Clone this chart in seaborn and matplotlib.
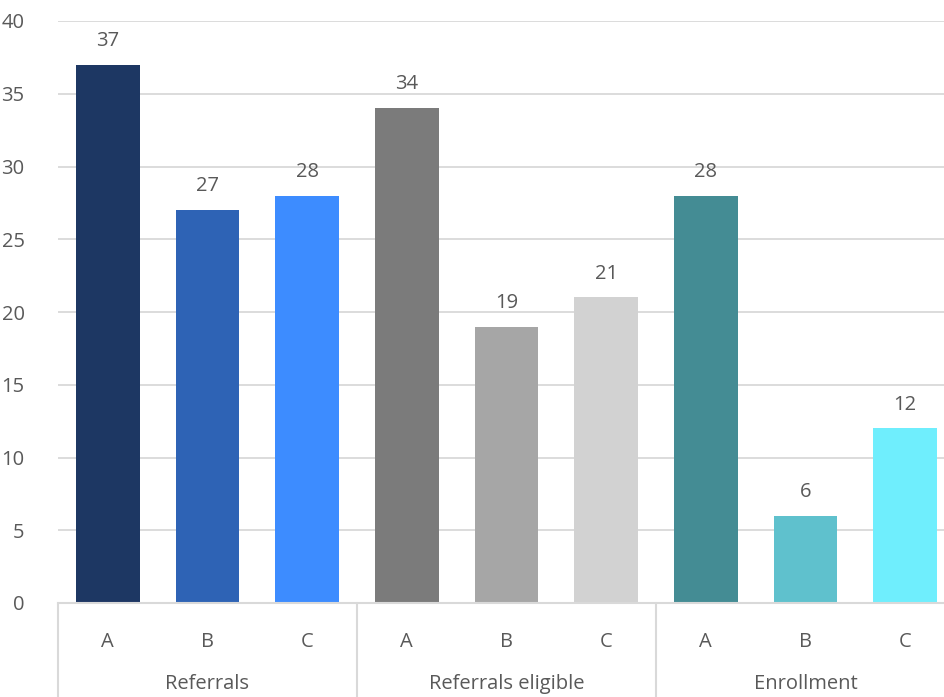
import numpy as np
import pandas as pd
import seaborn as sns
import matplotlib.pyplot as plt
from matplotlib.transforms import blended_transform_factory

# Datos
grupos = ['Referrals', 'Referrals eligible', 'Enrollment']
subcategorias = ['A', 'B', 'C']
valores = [37, 27, 28, 34, 19, 21, 28, 6, 12]
colores = ['#1D3763', '#2E63B5', '#3D8CFF',
           '#7B7B7B', '#A6A6A6', '#D2D2D2',
           '#448C94', '#5FC1CD', '#6FEEFD']

sns.set_style('white')
plt.rcParams['font.family'] = ['Open Sans', 'DejaVu Sans']

texto = '#595959'
gris = '#D9D9D9'
tam = 14.5

df = pd.DataFrame({
    'pos': [str(i) for i in range(len(valores))],
    'valor': valores,
})

fig = plt.figure(figsize=(9.44, 6.97), dpi=100)
ax = fig.add_axes([58 / 944, 94 / 697, 897 / 944, 582 / 697])

sns.barplot(data=df, x='pos', y='valor', hue='pos', palette=colores,
            width=0.64, legend=False, ax=ax, saturation=1, linewidth=0)

ax.set_xlim(-0.5, len(valores) - 0.5)
ax.set_ylim(0, 40)
ax.set_yticks(range(0, 41, 5))
ax.yaxis.grid(True, color=gris, linewidth=1.3)
ax.set_axisbelow(True)
for lado in ['top', 'right', 'left']:
    ax.spines[lado].set_visible(False)
ax.spines['bottom'].set_color(gris)
ax.spines['bottom'].set_linewidth(1.5)

ax.tick_params(axis='y', length=0, pad=24, labelsize=tam, labelcolor=texto)
ax.set_xticks(range(len(valores)))
ax.set_xticklabels(subcategorias * len(grupos))
ax.tick_params(axis='x', length=0, pad=21, labelsize=tam, labelcolor=texto)
ax.set_xlabel('')
ax.set_ylabel('')

for cont in ax.containers:
    ax.bar_label(cont, padding=10, fontsize=tam, color=texto)

# Etiquetas de grupo y separadores
trans = blended_transform_factory(ax.transData, ax.transAxes)
for i, g in enumerate(grupos):
    ax.text(3 * i + 1, -0.139, g, transform=trans, ha='center', va='center',
            fontsize=tam, color=texto)
for k in range(len(grupos) + 1):
    ax.plot([3 * k - 0.5, 3 * k - 0.5], [0, -0.17], transform=trans,
            color=gris, linewidth=1.5, clip_on=False)

plt.savefig('out.png', dpi=100)
